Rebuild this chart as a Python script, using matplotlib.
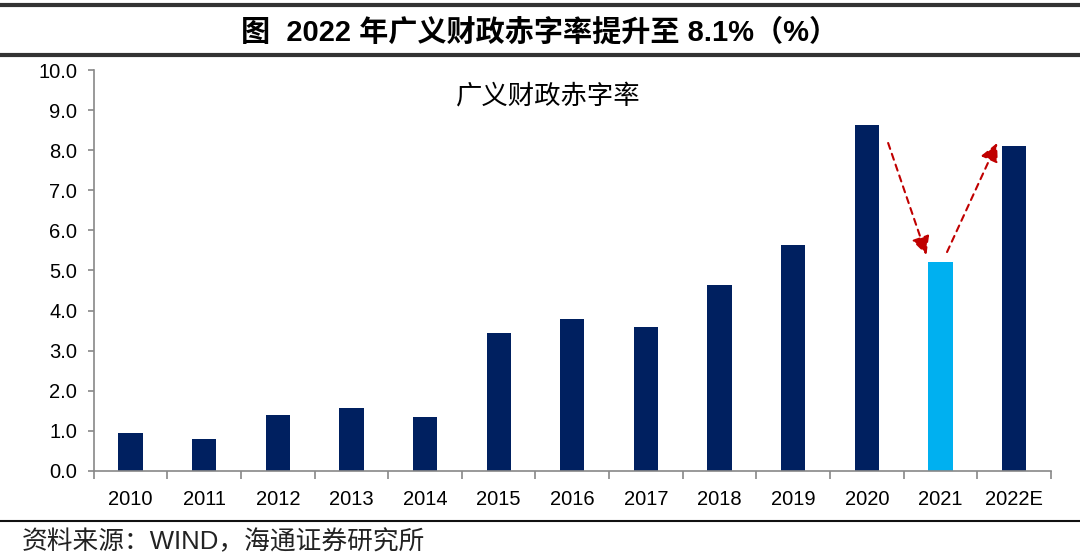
import matplotlib.pyplot as plt
from matplotlib.lines import Line2D
from matplotlib.ticker import FixedLocator, NullFormatter

plt.rcParams['font.family'] = ['Liberation Sans', 'Noto Sans CJK SC', 'DejaVu Sans']

# data
years = ['2010', '2011', '2012', '2013', '2014', '2015', '2016',
         '2017', '2018', '2019', '2020', '2021', '2022E']
deficit = [0.95, 0.80, 1.40, 1.56, 1.35, 3.43, 3.80, 3.60, 4.64, 5.63, 8.62, 5.20, 8.10]
highlight = '2021'

navy = '#002060'
light = '#00B0F0'
red = '#C00000'

fig = plt.figure(figsize=(10.8, 5.56), dpi=100)
ax = fig.add_axes([0.0868, 0.1529, 0.8862, 0.7212])

x = list(range(len(years)))
colors = [light if y == highlight else navy for y in years]
ax.bar(x, deficit, width=0.33, color=colors, zorder=2)

ax.set_xlim(-0.5, len(years) - 0.5)
ax.set_ylim(0, 10)
ax.set_yticks([i for i in range(11)])
ax.set_yticklabels([f'{i:.1f}' for i in range(11)], fontsize=14.5)
ax.set_xticks(x)
ax.set_xticklabels(years, fontsize=14.5)
ax.tick_params(axis='x', length=0, pad=14)
ax.xaxis.set_minor_locator(FixedLocator([i - 0.5 for i in range(len(years) + 1)]))
ax.xaxis.set_minor_formatter(NullFormatter())
ax.tick_params(axis='x', which='minor', length=6, color='#888888', width=1.2)
ax.tick_params(axis='y', length=4, color='#888888', width=1.2, pad=8)
for side in ['top', 'right']:
    ax.spines[side].set_visible(False)
for side in ['left', 'bottom']:
    ax.spines[side].set_color('#888888')
    ax.spines[side].set_linewidth(1.2)

# arrows between 2020, 2021 and 2022E
arrow_style = dict(arrowstyle='-|>,head_length=1.1,head_width=0.55', color=red,
                   linestyle=(0, (3, 2.5)), lw=1.5, shrinkA=0, shrinkB=0)
ax.annotate('', xy=(10.81, 5.39), xytext=(10.29, 8.18), arrowprops=arrow_style)
ax.annotate('', xy=(11.77, 8.18), xytext=(11.09, 5.46), arrowprops=arrow_style)

ax.text(0.475, 0.935, '广义财政赤字率', transform=ax.transAxes, ha='center', va='center',
        fontsize=19, family=['Noto Sans CJK SC', 'DejaVu Sans'])

# title banner and source footer
fig.add_artist(Line2D([0, 1], [0.991, 0.991], color='#333333', lw=3, transform=fig.transFigure))
fig.add_artist(Line2D([0, 1], [0.901, 0.901], color='#333333', lw=3, transform=fig.transFigure))
fig.text(0.5, 0.942, '图  2022 年广义财政赤字率提升至 8.1%（%）', ha='center', va='center',
         fontsize=21, fontweight='bold')
fig.add_artist(Line2D([0, 1], [0.063, 0.063], color='#111111', lw=1.5, transform=fig.transFigure))
fig.text(0.02, 0.026, '资料来源：WIND，海通证券研究所', ha='left', va='center',
         fontsize=18.5, color='#222222')

fig.savefig('out.png', dpi=100)
